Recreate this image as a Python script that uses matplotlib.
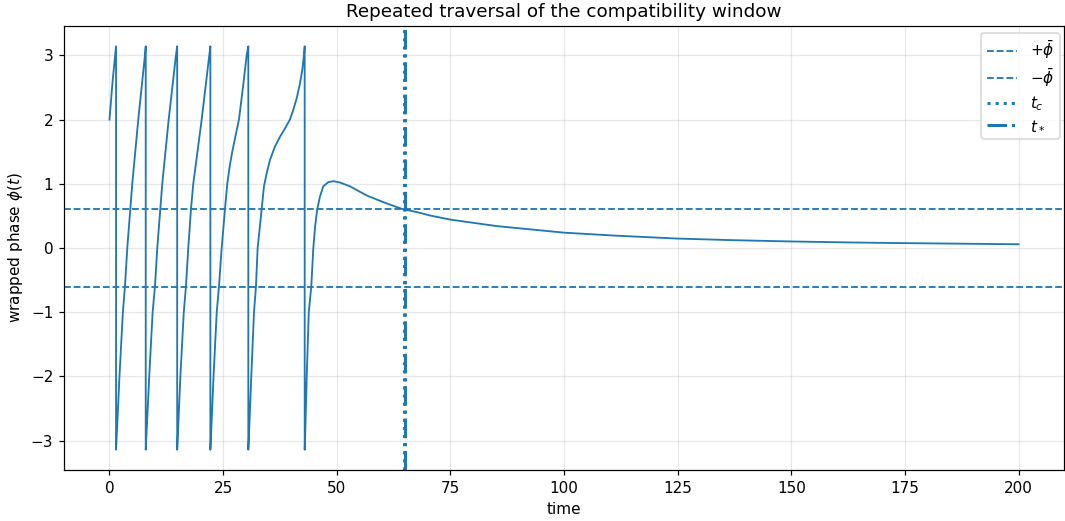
import matplotlib
matplotlib.use("Agg")
import matplotlib.pyplot as plt

# time samples (wraps appear as repeated time values)
time = [
    0.0, 0.7, 1.45,
    1.45, 1.55, 2.2, 2.95, 3.41, 3.92, 4.58, 5.02, 6.34, 7.81, 7.98,
    7.98, 8.08, 8.75, 9.5, 10.01, 10.52, 11.18, 11.62, 13.03, 14.63, 14.9,
    14.9, 15.0, 15.6, 16.35, 16.83, 17.34, 17.93, 18.44, 20.29, 21.96, 22.2,
    22.2, 22.3, 22.9, 23.6, 24.09, 24.69, 25.41, 25.92, 26.45, 27.02, 27.75, 28.49,
    29.37, 30.19, 30.55,
    30.55, 30.65, 31.2, 31.8, 32.23, 32.6, 33.48, 33.99, 34.58, 35.31, 36.41, 37.51, 38.61,
    39.71, 40.44, 41.19, 41.91, 42.42, 42.79, 42.95,
    42.95, 43.03, 43.4, 43.85, 44.4, 44.85, 45.25, 45.7, 46.31, 47.04, 48.14, 49.24, 50.7,
    52.9, 56.6, 60.24, 64.29, 67.9, 70.5, 75.0, 85.2, 100.0, 111.2, 124.9, 137.1, 149.8,
    163.1, 174.9, 189.0, 200.0,
]
phase = [
    2.0, 2.6, 3.14,
    -3.14, -3.0, -2.0, -1.0, -0.6, 0.0, 0.6, 1.0, 2.0, 3.0, 3.14,
    -3.14, -3.0, -2.0, -1.0, -0.6, 0.0, 0.6, 1.0, 2.0, 3.0, 3.14,
    -3.14, -3.0, -2.0, -1.0, -0.6, 0.0, 0.6, 1.0, 2.0, 3.0, 3.14,
    -3.14, -3.0, -2.0, -1.0, -0.6, 0.0, 0.6, 1.0, 1.27, 1.5, 1.75, 2.0,
    2.5, 3.0, 3.14,
    -3.14, -3.0, -2.0, -1.0, -0.6, 0.0, 0.6, 0.96, 1.16, 1.37, 1.58, 1.73, 1.86,
    2.0, 2.15, 2.33, 2.56, 2.77, 3.0, 3.14,
    -3.14, -3.0, -2.0, -1.0, -0.6, 0.0, 0.34, 0.6, 0.8, 0.96, 1.025, 1.04, 1.02,
    0.96, 0.818, 0.714, 0.61, 0.554, 0.506, 0.442, 0.341, 0.239, 0.193, 0.147, 0.122, 0.102,
    0.086, 0.076, 0.066, 0.058,
]

phi_bar = 0.6
t_c = 64.7
t_star = 65.0

DPI = 110
fig = plt.figure(figsize=(1065 / DPI, 521 / DPI), dpi=DPI)
ax = fig.add_axes([64 / 1065, 1 - 470 / 521, 1000 / 1065, 444 / 521])

ax.plot(time, phase, color="C0", lw=1.2)
ax.axhline(phi_bar, color="C0", ls="--", lw=1.2, label=r"$+\bar{\phi}$")
ax.axhline(-phi_bar, color="C0", ls="--", lw=1.2, label=r"$-\bar{\phi}$")
ax.axvline(t_c, color="C0", ls=":", lw=2, label=r"$t_c$")
ax.axvline(t_star, color="C0", ls="-.", lw=2, label=r"$t_*$")

ax.set_xlim(-10, 210)
ax.set_ylim(-3.456, 3.456)
ax.grid(True, alpha=0.3)
ax.set_xlabel("time")
ax.set_ylabel(r"wrapped phase $\phi(t)$")
ax.set_title("Repeated traversal of the compatibility window")
ax.legend(loc="upper right", bbox_to_anchor=(0.996, 0.984), borderaxespad=0,
          labelspacing=0.35)

fig.savefig("out.png", dpi=DPI)
